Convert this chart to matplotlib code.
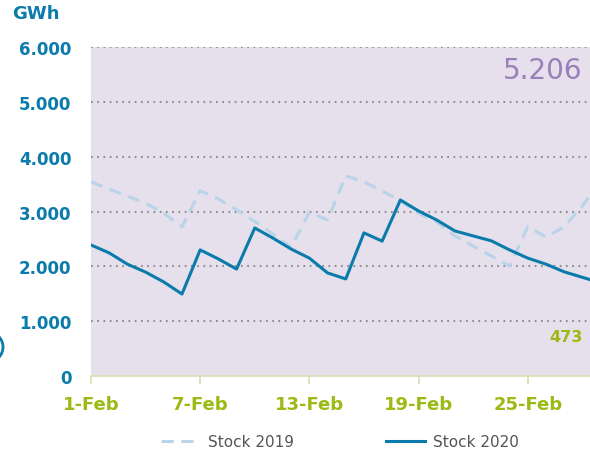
import matplotlib
matplotlib.use('Agg')
import matplotlib.patches as mpatches
from matplotlib import pyplot as plt

# gas storage stock (GWh), one value per day in February
days = list(range(1, 30))
stock2019 = [3540, 3410, 3280, 3150, 2970, 2720, 3380, 3230, 3030, 2820,
             2590, 2350, 2990, 2845, 3650, 3540, 3375, 3200, 2970, 2810,
             2555, 2370, 2190, 2005, 2720, 2535, 2720, 3100, 3550]
stock2020 = [2390, 2245, 2040, 1895, 1715, 1495, 2300, 2135, 1950, 2700,
             2515, 2315, 2150, 1880, 1770, 2610, 2460, 3210, 3010, 2845,
             2645, 2555, 2465, 2300, 2150, 2040, 1900, 1800, 1700]
tick_days = [1, 7, 13, 19, 25]
tick_labels = ['1-Feb', '7-Feb', '13-Feb', '19-Feb', '25-Feb']
yticks = [0, 1000, 2000, 3000, 4000, 5000, 6000]
ytick_labels = ['0', '1.000', '2.000', '3.000', '4.000', '5.000', '6.000']

BLUE = '#0a7bab'
LIGHT = '#b9d3e9'
GREEN = '#9cba14'
PURPLE = '#9a80b9'

fig = plt.figure(figsize=(5.9, 4.52), dpi=100)
ax = fig.add_axes([0.1542, 0.1659, 0.8458, 0.7279])
ax.set_facecolor('#e6e0ed')

ax.plot(days, stock2019, color=LIGHT, lw=2.2, dashes=(4, 2.5), label='Stock 2019')
ax.plot(days, stock2020, color=BLUE, lw=2.2, label='Stock 2020')

ax.set_xlim(1, 28.42)
ax.set_ylim(0, 6000)
ax.set_yticks(yticks)
ax.set_yticklabels(ytick_labels)
ax.set_xticks(tick_days)
ax.set_xticklabels(tick_labels)

for y in yticks[1:]:
    ax.axhline(y, color='#8c8c8c', lw=1.5, dashes=(0.8, 2.2), zorder=1)

for s in ['top', 'right', 'left']:
    ax.spines[s].set_visible(False)
ax.spines['bottom'].set_color('#d3e0b0')
ax.spines['bottom'].set_linewidth(1.2)
ax.tick_params(axis='y', length=0, pad=14, labelsize=12, labelcolor=BLUE)
ax.tick_params(axis='x', length=6, color='#d3e0b0', width=1.2, pad=8,
               labelsize=13, labelcolor=GREEN)
for lab in ax.get_yticklabels() + ax.get_xticklabels():
    lab.set_fontweight('bold')

ax.text(0.985, 0.93, '5.206', transform=ax.transAxes, ha='right', va='center',
        fontsize=20, color=PURPLE)
ax.text(0.985, 0.12, '473', transform=ax.transAxes, ha='right', va='center',
        fontsize=11.5, color=GREEN, fontweight='bold')

fig.text(0.02, 0.968, 'GWh', ha='left', va='center', fontsize=13,
         fontweight='bold', color=BLUE)

# cropped circle at the left edge
circ = mpatches.Circle((-12, 104), 15, transform=None, fill=False,
                       edgecolor=BLUE, lw=2)
fig.patches.append(circ)

fig.legend(loc='center', bbox_to_anchor=(0.576, 0.02), ncol=2, frameon=False,
           fontsize=11, handlelength=2.6, handletextpad=0.5, columnspacing=6.0,
           labelcolor='#555555')

fig.savefig('out.png', dpi=100)
